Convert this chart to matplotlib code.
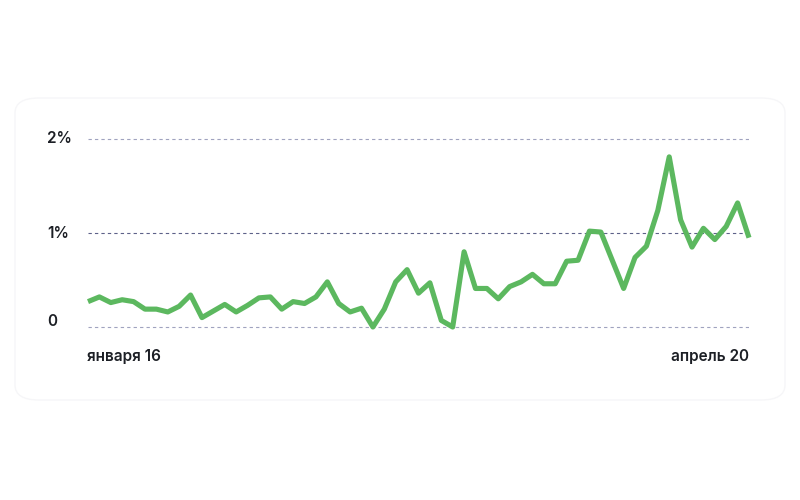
import matplotlib
matplotlib.use("Agg")
import matplotlib.pyplot as plt
from matplotlib.patches import FancyBboxPatch

plt.rcParams['font.family'] = ['Inter', 'DejaVu Sans']

values = [0.27, 0.32, 0.26, 0.29, 0.27, 0.19, 0.19, 0.16, 0.22, 0.34,
          0.10, 0.17, 0.24, 0.16, 0.23, 0.31, 0.32, 0.19, 0.27, 0.25,
          0.32, 0.48, 0.25, 0.16, 0.20, 0.00, 0.19, 0.48, 0.61, 0.36,
          0.47, 0.07, 0.00, 0.80, 0.41, 0.41, 0.30, 0.43, 0.48, 0.56,
          0.46, 0.46, 0.70, 0.71, 1.02, 1.01, 0.71, 0.41, 0.74, 0.86,
          1.24, 1.81, 1.14, 0.85, 1.05, 0.93, 1.07, 1.32, 0.95]
y_ticks = [0, 1, 2]
y_tick_labels = ["0", "1%", "2%"]
x_labels = ["января 16", "апрель 20"]

W, H = 800, 500
fig = plt.figure(figsize=(8, 5), dpi=100)
fig.patch.set_facecolor("white")

# card
card = FancyBboxPatch((15 / W, 1 - 400 / H), 770 / W, 302 / H,
                      boxstyle="round,pad=0,rounding_size=0.03",
                      transform=fig.transFigure, facecolor="white",
                      edgecolor="#f6f6f8", linewidth=1.0, zorder=-5)
fig.patches.append(card)

# axes geometry: data 0 -> 327px, 2 -> 139px
ppu = 94.0
ymin, ymax = -0.2, 2.2
bottom_px = 327 + (-ymin) * ppu
top_px = 139 - (ymax - 2) * ppu
left_px, right_px = 88, 749
ax = fig.add_axes([left_px / W, 1 - bottom_px / H,
                   (right_px - left_px) / W, (bottom_px - top_px) / H])
ax.set_zorder(2)
ax.set_xlim(0, len(values) - 1)
ax.set_ylim(ymin, ymax)
ax.axis("off")

for t in y_ticks:
    col = "#5d6189" if t == 1 else "#a0a3bf"
    ax.axhline(t, color=col, linewidth=0.8, linestyle=(0, (3, 2.8)), zorder=1)

ax.plot(range(len(values)), values, color="#5cb85f", linewidth=3.7,
        solid_joinstyle="round", solid_capstyle="butt", clip_on=False, zorder=3)

txt = dict(color="#1c1f25", fontsize=11, fontweight="semibold")
label_y_px = {0: 322, 1: 233.5, 2: 138.5}
for t, lab in zip(y_ticks, y_tick_labels):
    fig.text(47 / W, 1 - label_y_px[t] / H, lab, ha="left", va="center", **txt)

fig.text(87 / W, 1 - 357 / H, x_labels[0], ha="left", va="center", **txt)
fig.text(749 / W, 1 - 357 / H, x_labels[1], ha="right", va="center", **txt)

fig.savefig("out.png", dpi=100, facecolor="white")
